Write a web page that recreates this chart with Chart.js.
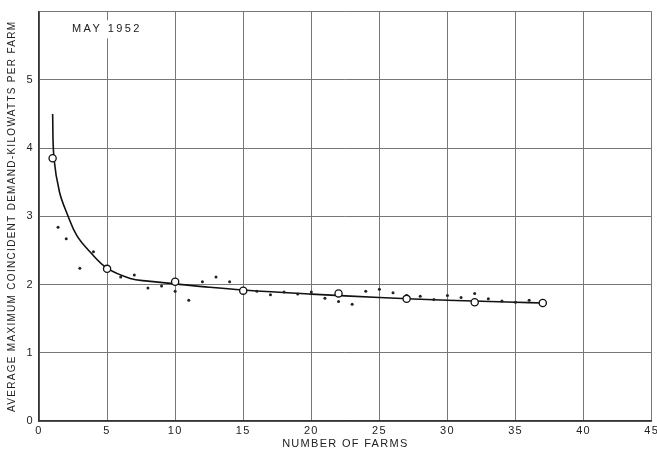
<!DOCTYPE html>
<html>
<head>
<meta charset="utf-8">
<script src="https://cdn.jsdelivr.net/npm/chart.js@4/dist/chart.umd.min.js"></script>
<style>
  html, body { margin: 0; padding: 0; background: #ffffff; }
  #wrap { width: 657px; height: 454px; position: relative; }
</style>
</head>
<body>
<div id="wrap"><canvas id="c" width="657" height="454"></canvas></div>
<script>
// ---- data ----
const xTickValues = [0, 5, 10, 15, 20, 25, 30, 35, 40, 45];
const yTickValues = [0, 1, 2, 3, 4, 5];
const annotationText = "MAY 1952";
const xTitle = "NUMBER OF FARMS";
const yTitle = "AVERAGE MAXIMUM COINCIDENT DEMAND-KILOWATTS PER FARM";

// open circles (group averages)
const circleX = [1, 5, 10, 15, 22, 27, 32, 37];
const circleY = [3.85, 2.23, 2.04, 1.91, 1.87, 1.79, 1.74, 1.73];

// small dots (individual observations)
const dotX = [1.4, 2, 3, 4, 6, 7, 8, 9, 10, 11, 12, 13, 14, 16, 17, 18, 19, 20, 21, 22, 23, 24, 25, 26, 27, 28, 29, 30, 31, 32, 33, 34, 35, 36];
const dotY = [2.84, 2.67, 2.24, 2.48, 2.11, 2.14, 1.95, 1.98, 1.90, 1.77, 2.04, 2.11, 2.04, 1.90, 1.85, 1.89, 1.86, 1.89, 1.80, 1.75, 1.71, 1.90, 1.93, 1.88, 1.84, 1.83, 1.78, 1.84, 1.81, 1.87, 1.79, 1.76, 1.74, 1.77];

// fitted curve
const curveX = [1, 1.1, 1.5, 2.1, 2.77, 3.74, 5, 6.7, 8, 10, 12, 15, 20, 25, 30, 35, 37];
const curveY = [4.5, 3.85, 3.36, 3.02, 2.72, 2.48, 2.24, 2.09, 2.05, 2.01, 1.97, 1.92, 1.86, 1.81, 1.77, 1.74, 1.73];

// annotation anchor in data units
const annX = [2.42];
const annY = [5.74];

const toPts = (xs, ys) => xs.map((x, i) => ({ x: x, y: ys[i] }));

const FONT = "'Liberation Sans', Arial, sans-serif";

const textPlugin = {
  id: 'textPlugin',
  beforeDraw(chart) {
    const ctx = chart.ctx;
    ctx.save();
    ctx.fillStyle = '#ffffff';
    ctx.fillRect(0, 0, chart.width, chart.height);
    ctx.restore();
    ctx.letterSpacing = '1.3px';
  },
  afterDraw(chart) {
    const ctx = chart.ctx;
    const xs = chart.scales.x, ys = chart.scales.y;
    const px = xs.getPixelForValue(annX[0]);
    const py = ys.getPixelForValue(annY[0]);
    ctx.save();
    ctx.letterSpacing = '2.4px';
    ctx.font = '11px ' + FONT;
    ctx.textAlign = 'left';
    ctx.textBaseline = 'middle';
    const w = ctx.measureText(annotationText).width;
    ctx.fillStyle = '#ffffff';
    ctx.fillRect(px - 4, py - 9, w + 8, 18);
    ctx.fillStyle = '#1a1a1a';
    ctx.fillText(annotationText, px, py);
    ctx.restore();
  }
};

new Chart(document.getElementById('c'), {
  type: 'scatter',
  data: {
    datasets: [
      {
        label: 'curve',
        data: toPts(curveX, curveY),
        showLine: true,
        borderColor: '#111111',
        borderWidth: 1.6,
        pointRadius: 0,
        tension: 0.4,
        order: 3
      },
      {
        label: 'dots',
        data: toPts(dotX, dotY),
        showLine: false,
        pointRadius: 1.5,
        pointBackgroundColor: '#222222',
        pointBorderWidth: 0,
        order: 2
      },
      {
        label: 'circles',
        data: toPts(circleX, circleY),
        showLine: false,
        pointRadius: 3.6,
        pointBackgroundColor: '#ffffff',
        pointBorderColor: '#111111',
        pointBorderWidth: 1.3,
        order: 1
      }
    ]
  },
  options: {
    responsive: false,
    animation: false,
    events: [],
    layout: { padding: { top: 8, right: 5, left: 0, bottom: 0 } },
    plugins: {
      legend: { display: false },
      tooltip: { enabled: false },
      title: { display: false }
    },
    scales: {
      x: {
        type: 'linear',
        min: 0,
        max: 45,
        afterBuildTicks: (s) => { s.ticks = xTickValues.map(v => ({ value: v })); },
        afterFit: (s) => { s.height = 33; s.paddingLeft = 0; s.paddingRight = 0; },
        ticks: {
          color: '#222222',
          font: { family: FONT, size: 11 },
          padding: 3,
          maxRotation: 0,
          autoSkip: false
        },
        grid: { color: '#777777', lineWidth: 1, drawTicks: false, tickLength: 0 },
        border: { color: '#333333', width: 1.5 },
        title: {
          display: true,
          text: xTitle,
          color: '#222222',
          font: { family: FONT, size: 11 },
          padding: { top: 0, bottom: 3 }
        }
      },
      y: {
        type: 'linear',
        min: 0,
        max: 6,
        afterBuildTicks: (s) => { s.ticks = yTickValues.concat([6]).map(v => ({ value: v })); },
        afterFit: (s) => { s.width = 39; },
        ticks: {
          color: '#222222',
          font: { family: FONT, size: 11 },
          padding: 5,
          callback: (v) => (yTickValues.includes(v) ? String(v) : '')
        },
        grid: { color: '#777777', lineWidth: 1, drawTicks: false, tickLength: 0 },
        border: { color: '#333333', width: 1.5 },
        title: {
          display: true,
          text: yTitle,
          color: '#222222',
          font: { family: FONT, size: 10 },
          padding: { top: 6, bottom: 0 }
        }
      }
    }
  },
  plugins: [textPlugin]
});
</script>
</body>
</html>
